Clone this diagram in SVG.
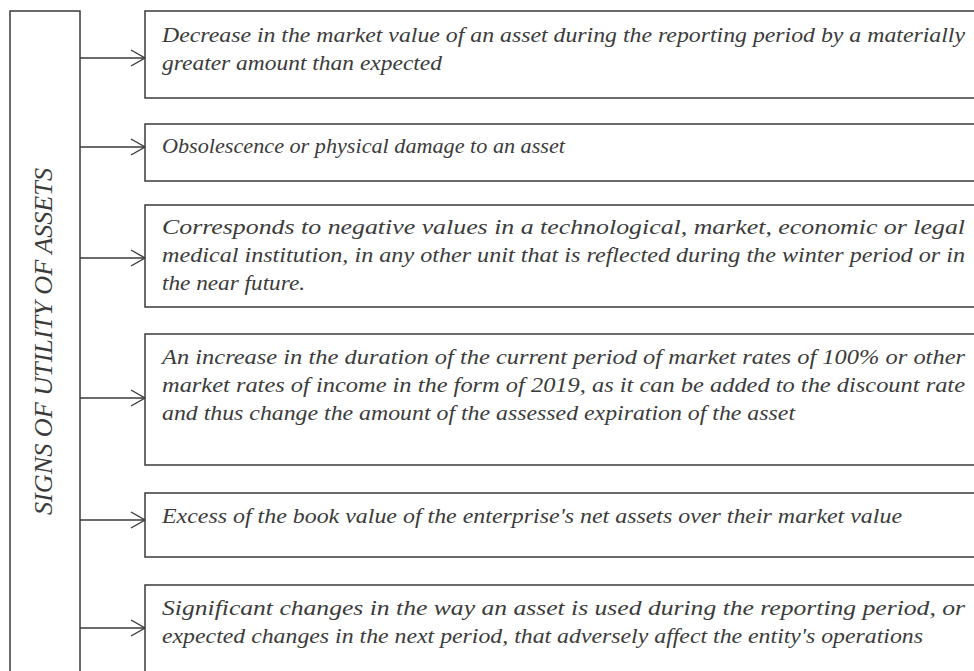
<svg xmlns="http://www.w3.org/2000/svg" width="974" height="671" viewBox="0 0 974 671">
<style>
  .box { fill: #ffffff; stroke: #3a3a3a; stroke-width: 1.5; }
  .t { font-family: "Liberation Serif", "Times New Roman", serif; font-style: italic; font-size: 21px; fill: #3b3b3b; }
  .title { font-family: "Liberation Serif", "Times New Roman", serif; font-style: italic; font-size: 25px; fill: #3b3b3b; }
  .conn { fill: none; stroke: #3a3a3a; stroke-width: 1.4; }
</style>
<defs>
  <marker id="arr" markerUnits="userSpaceOnUse" markerWidth="20" markerHeight="22" refX="15" refY="9" orient="auto">
    <path d="M1,1 L15,9 L1,17" fill="none" stroke="#3a3a3a" stroke-width="1.4"/>
  </marker>
</defs>
<rect width="974" height="671" fill="#ffffff"/>

<g id="main">
  <rect class="box" x="10" y="11" width="70" height="680"/>
  <text class="title" transform="translate(52,341.5) rotate(-90)" text-anchor="middle" textLength="347" lengthAdjust="spacingAndGlyphs">SIGNS OF UTILITY OF ASSETS</text>
</g>

<g id="connectors">
  <line class="conn" x1="80" y1="58" x2="145" y2="58" marker-end="url(#arr)"/>
  <line class="conn" x1="80" y1="147" x2="145" y2="147" marker-end="url(#arr)"/>
  <line class="conn" x1="80" y1="258" x2="145" y2="258" marker-end="url(#arr)"/>
  <line class="conn" x1="80" y1="398" x2="145" y2="398" marker-end="url(#arr)"/>
  <line class="conn" x1="80" y1="520" x2="145" y2="520" marker-end="url(#arr)"/>
  <line class="conn" x1="80" y1="628" x2="145" y2="628" marker-end="url(#arr)"/>
</g>

<g id="node1">
  <rect class="box" x="145" y="11" width="840" height="87"/>
  <text class="t" x="162" y="42" textLength="803" lengthAdjust="spacingAndGlyphs">Decrease in the market value of an asset during the reporting period by a materially</text>
  <text class="t" x="162" y="70" textLength="280" lengthAdjust="spacingAndGlyphs">greater amount than expected</text>
</g>

<g id="node2">
  <rect class="box" x="145" y="124" width="840" height="57"/>
  <text class="t" x="162" y="153" textLength="403" lengthAdjust="spacingAndGlyphs">Obsolescence or physical damage to an asset</text>
</g>

<g id="node3">
  <rect class="box" x="145" y="205" width="840" height="102"/>
  <text class="t" x="162" y="234" textLength="803" lengthAdjust="spacingAndGlyphs">Corresponds to negative values in a technological, market, economic or legal</text>
  <text class="t" x="162" y="262" textLength="803" lengthAdjust="spacingAndGlyphs">medical institution, in any other unit that is reflected during the winter period or in</text>
  <text class="t" x="162" y="290" textLength="143" lengthAdjust="spacingAndGlyphs">the near future.</text>
</g>

<g id="node4">
  <rect class="box" x="145" y="334" width="840" height="131"/>
  <text class="t" x="162" y="364" textLength="803" lengthAdjust="spacingAndGlyphs">An increase in the duration of the current period of market rates of 100% or other</text>
  <text class="t" x="162" y="392" textLength="803" lengthAdjust="spacingAndGlyphs">market rates of income in the form of 2019, as it can be added to the discount rate</text>
  <text class="t" x="162" y="420" textLength="633" lengthAdjust="spacingAndGlyphs">and thus change the amount of the assessed expiration of the asset</text>
</g>

<g id="node5">
  <rect class="box" x="145" y="493" width="840" height="64"/>
  <text class="t" x="162" y="523" textLength="740" lengthAdjust="spacingAndGlyphs">Excess of the book value of the enterprise's net assets over their market value</text>
</g>

<g id="node6">
  <rect class="box" x="145" y="585" width="840" height="100"/>
  <text class="t" x="162" y="615" textLength="803" lengthAdjust="spacingAndGlyphs">Significant changes in the way an asset is used during the reporting period, or</text>
  <text class="t" x="162" y="643" textLength="761" lengthAdjust="spacingAndGlyphs">expected changes in the next period, that adversely affect the entity's operations</text>
</g>
</svg>
